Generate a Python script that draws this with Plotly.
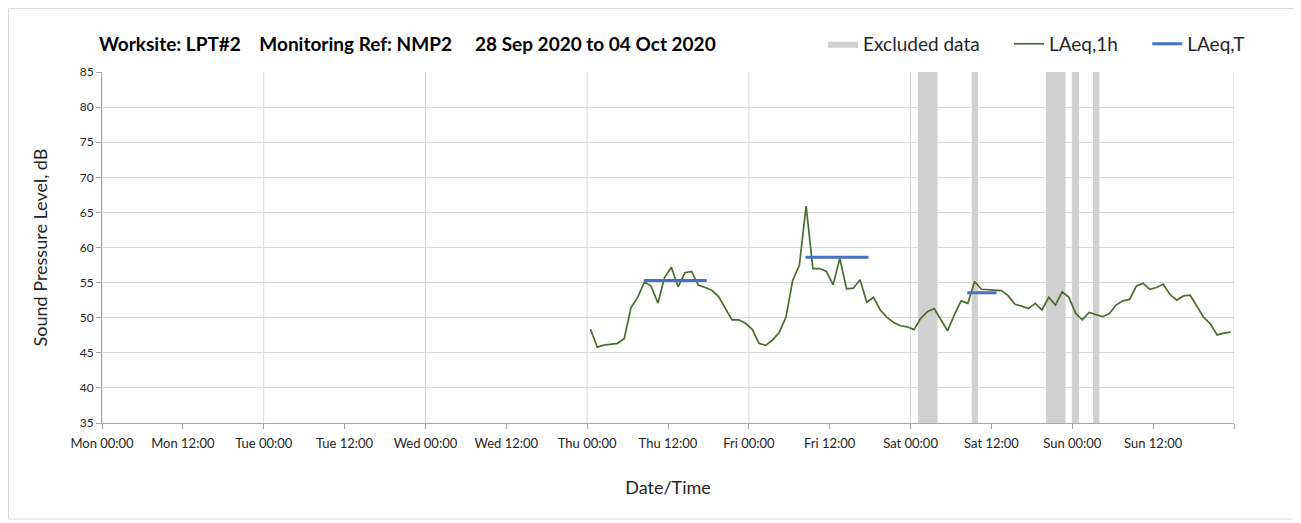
import pandas as pd
import plotly.graph_objects as go

# ---- data ----
laeq_1h_start = "2020-10-01 00:30"
laeq_1h = [48.35, 45.8, 46.1, 46.2, 46.35, 47.0, 51.4, 52.9, 55.1, 54.5,
           52.1, 55.75, 57.2, 54.4, 56.4, 56.6, 54.65, 54.3, 53.9, 53.0,
           51.3, 49.7, 49.7, 49.2, 48.35, 46.35, 46.05, 46.8, 47.9, 50.05,
           55.3, 57.5, 65.9, 57.0, 57.0, 56.6, 54.7, 58.45, 54.1, 54.2,
           55.4, 52.2, 52.9, 51.1, 50.05, 49.3, 48.85, 48.7, 48.3, 49.9,
           50.85, 51.3, 49.7, 48.15, 50.4, 52.4, 52.05, 55.15, 54.05, 54.0,
           53.95, 53.85, 53.1, 51.9, 51.65, 51.3, 52.05, 51.1, 52.9, 51.8,
           53.7, 52.9, 50.6, 49.7, 50.75, 50.5, 50.15, 50.6, 51.8, 52.4,
           52.6, 54.5, 54.9, 54.05, 54.3, 54.8, 53.3, 52.5, 53.1, 53.2,
           51.6, 50.05, 49.1, 47.55, 47.8, 47.95]

laeq_t_start = ["2020-10-01 08:25", "2020-10-02 08:25", "2020-10-03 08:25"]
laeq_t_end = ["2020-10-01 17:45", "2020-10-02 17:45", "2020-10-03 12:45"]
laeq_t = [55.3, 58.6, 53.55]

excl_start = ["2020-10-03 01:05", "2020-10-03 09:05", "2020-10-03 20:05",
              "2020-10-04 00:00", "2020-10-04 03:05"]
excl_end = ["2020-10-03 04:00", "2020-10-03 10:00", "2020-10-03 23:00",
            "2020-10-04 01:00", "2020-10-04 04:00"]

legend_names = ["Excluded data", "LAeq,1h", "LAeq,T"]

y_min, y_max = 35, 85
week_start = "2020-09-28 00:00"
week_end = "2020-10-05 00:00"
tick_times = pd.date_range(week_start, week_end, freq="12h")
tick_labels = [t.strftime("%a %H:%M") for t in tick_times[:-1]] + [""]
day_lines = pd.date_range(week_start, week_end, freq="D")

# ---- build traces ----
times_1h = pd.date_range(laeq_1h_start, periods=len(laeq_1h), freq="h")

ex_x, ex_y = [], []
for s, e in zip(excl_start, excl_end):
    ex_x += [s, e, e, s, s, None]
    ex_y += [y_min, y_min, y_max, y_max, y_min, None]

t_x, t_y = [], []
for s, e, v in zip(laeq_t_start, laeq_t_end, laeq_t):
    t_x += [s, e, None]
    t_y += [v, v, None]

pad = "\u00a0" * 5
fig = go.Figure()
fig.add_trace(go.Scatter(x=ex_x, y=ex_y, fill="toself", mode="lines",
                         line=dict(width=0, color="#d0d0d0"),
                         fillcolor="#d0d0d0", name=legend_names[0] + pad))
fig.add_trace(go.Scatter(x=times_1h, y=laeq_1h, mode="lines",
                         line=dict(color="#4a6b32", width=1.7), name=legend_names[1] + pad))
fig.add_trace(go.Scatter(x=t_x, y=t_y, mode="lines",
                         line=dict(color="#4472c4", width=3), name=legend_names[2]))

shapes = []
for d in day_lines:
    shapes.append(dict(type="line", xref="x", yref="paper", x0=d, x1=d, y0=0, y1=1,
                       line=dict(color="#d9d9d9", width=1), layer="below"))
# outer chart border
shapes.append(dict(type="rect", xref="paper", yref="paper",
                   x0=-0.0826, x1=1.0557, y0=-0.2735, y1=1.181,
                   line=dict(color="#d9d9d9", width=1)))

font = "Lato, 'Open Sans', sans-serif"
fig.update_layout(
    width=1293, height=515,
    margin=dict(l=94, r=67, t=64, b=100),
    paper_bgcolor="white", plot_bgcolor="white",
    font=dict(family=font, color="#262626"),
    shapes=shapes,
    showlegend=True,
    legend=dict(orientation="h", x=0.637, xanchor="left", y=1.08, yanchor="middle",
                font=dict(size=19, color="#262626"), bgcolor="rgba(0,0,0,0)"),
    annotations=[dict(
        text="<b>Worksite: LPT#2\u00a0\u00a0\u00a0\u00a0Monitoring Ref: NMP2\u00a0\u00a0\u00a0\u00a0\u00a028 Sep 2020 to 04 Oct 2020</b>",
        xref="paper", yref="paper", x=-0.004, y=1.08, xanchor="left", yanchor="middle",
        showarrow=False, font=dict(size=19, color="#000000", family=font))],
    xaxis=dict(type="date", range=[week_start, week_end],
               tickmode="array", tickvals=tick_times, ticktext=tick_labels,
               showgrid=False, ticks="outside", ticklen=5, tickcolor="#a6a6a6",
               showline=True, linecolor="#a6a6a6", linewidth=1,
               ticklabelstandoff=3,
               tickfont=dict(size=13, color="#262626"),
               title=dict(text="Date/Time", font=dict(size=18, color="#262626"), standoff=31)),
    yaxis=dict(range=[y_min, y_max], dtick=5, tick0=35,
               showgrid=True, gridcolor="#d9d9d9", gridwidth=1, zeroline=False,
               ticks="outside", ticklen=5, tickcolor="#a6a6a6",
               showline=True, linecolor="#a6a6a6", linewidth=1,
               tickfont=dict(size=12, color="#262626"),
               title=dict(text="Sound Pressure Level, dB", font=dict(size=18, color="#262626"), standoff=27)),
)

fig.write_html("out.html")
